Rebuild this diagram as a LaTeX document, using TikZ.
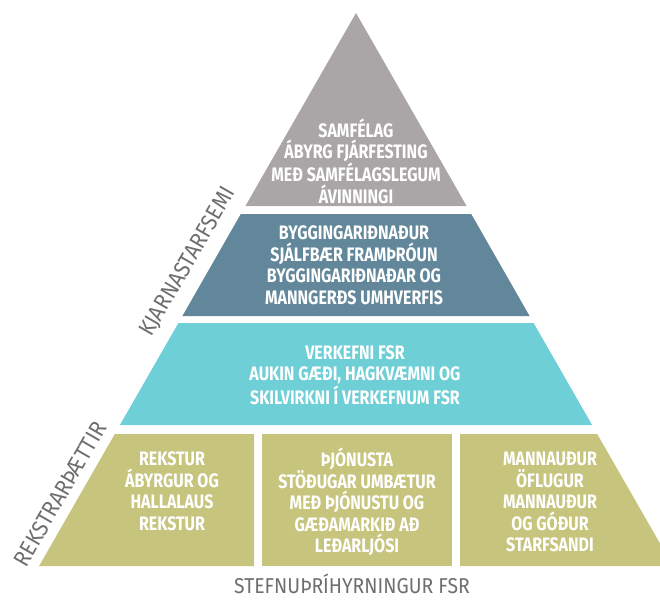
\documentclass[tikz,border=0pt]{standalone}
\usepackage{fontspec}
\setmainfont{Fira Sans}
\newfontfamily\pyrfont{Fira Sans}[FakeStretch=0.82]
\newfontfamily\sidefont{Fira Sans}[FakeStretch=0.9]
\usepackage{tikz}

\definecolor{samgray}{RGB}{170,166,167}
\definecolor{bygblue}{RGB}{98,135,154}
\definecolor{verkteal}{RGB}{111,207,214}
\definecolor{rekolive}{RGB}{199,196,126}
\definecolor{labelgray}{RGB}{109,110,112}

\begin{document}
\begin{tikzpicture}[x=1pt,y=-1pt,
  layer/.style={align=center,text=white,inner sep=0pt,
    font=\pyrfont\bfseries\fontsize{19.5}{21.5}\selectfont},
  sidelabel/.style={text=labelgray,inner sep=0pt,rotate=60,
    font=\sidefont\fontsize{23}{26}\selectfont}]
  \useasboundingbox (0,0) rectangle (660,599);
  \clip (0,0) rectangle (660,599);
  % pyramid bands
  \fill[samgray] (356,13) -- (466.6,206) -- (245.4,206) -- cycle;
  \fill[bygblue] (240.8,214) -- (471.2,214) -- (529.6,316) -- (182.4,316) -- cycle;
  \fill[verkteal] (178.4,323) -- (533.6,323) -- (592.1,425) -- (119.9,425) -- cycle;
  \fill[rekolive] (114.8,434) -- (254,434) -- (254,566) -- (39.1,566) -- cycle;
  \fill[rekolive] (262,434) rectangle (452,566);
  \fill[rekolive] (460,434) -- (597.2,434) -- (672.9,566) -- (460,566) -- cycle;
  % texts
  \node[layer] (samfelag) at (356,161) {SAMFÉLAG\\ÁBYRG FJÁRFESTING\\MEÐ SAMFÉLAGSLEGUM\\ÁVINNINGI};
  \node[layer] (bygging) at (354,265) {BYGGINGARIÐNAÐUR\\SJÁLFBÆR FRAMÞRÓUN\\BYGGINGARIÐNAÐAR OG\\MANNGERÐS UMHVERFIS};
  \node[layer] (verkefni) at (355,375) {VERKEFNI FSR\\AUKIN GÆÐI, HAGKVÆMNI OG\\SKILVIRKNI Í VERKEFNUM FSR};
  \node[layer] (rekstur) at (172,491) {REKSTUR\\ÁBYRGUR OG\\HALLALAUS\\REKSTUR};
  \node[layer] (thjonusta) at (357,502) {ÞJÓNUSTA\\STÖÐUGAR UMBÆTUR\\MEÐ ÞJÓNUSTU OG\\GÆÐAMARKIÐ AÐ\\LEÐARLJÓSI};
  \node[layer] (mannaudur) at (550,502) {MANNAUÐUR\\ÖFLUGUR\\MANNAUÐUR\\OG GÓÐUR\\STARFSANDI};
  \node[sidelabel] (kjarna) at (188,262) {KJARNASTARFSEMI};
  \node[sidelabel] (rekstrar) at (60,494) {REKSTRARÞÆTTIR};
  \node[text=labelgray,inner sep=0pt,font=\sidefont\fontsize{21.5}{26}\selectfont]
    (titill) at (352,584) {STEFNUÞRÍHYRNINGUR FSR};
\end{tikzpicture}
\end{document}
